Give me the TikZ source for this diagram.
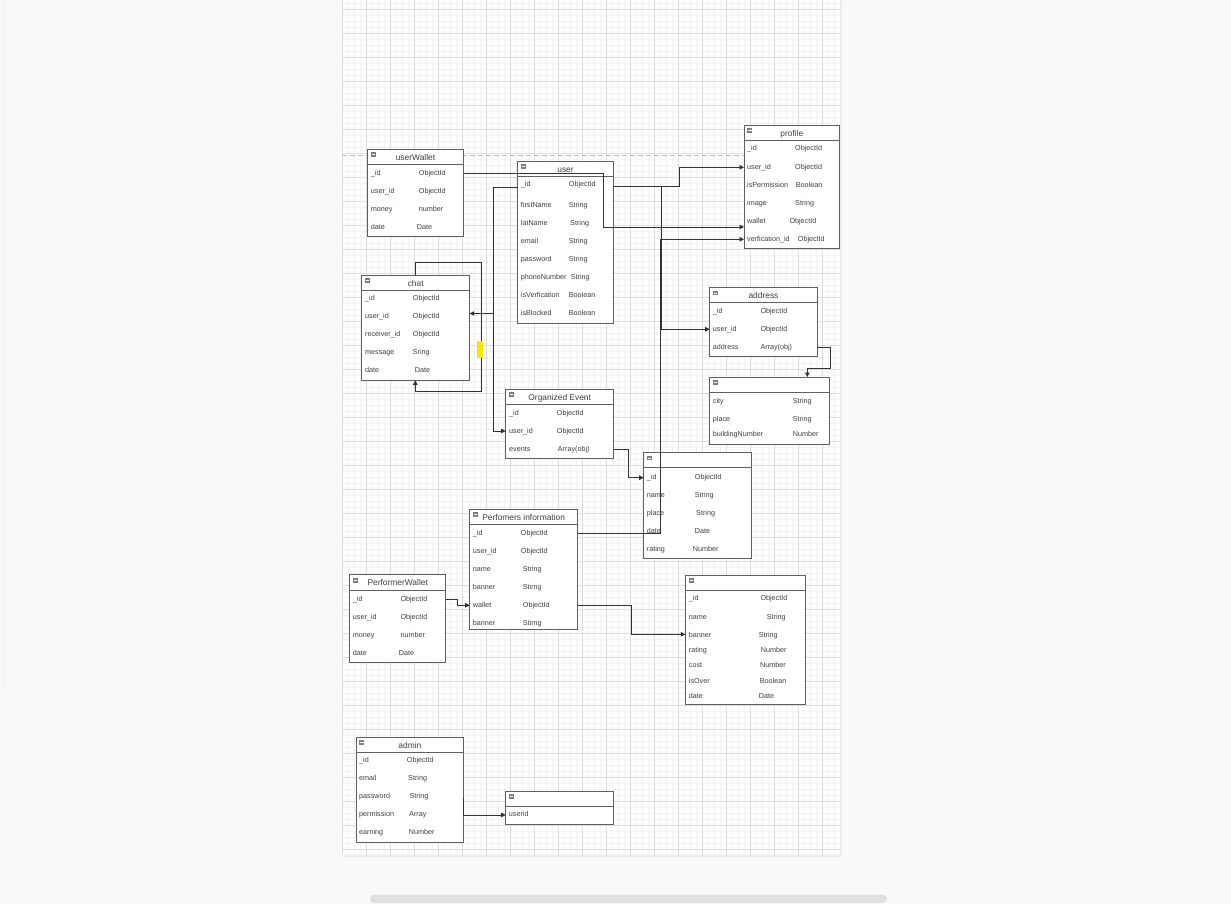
\documentclass[tikz,border=0pt]{standalone}
\usepackage{fontspec}
\setmainfont{Liberation Sans}
\usetikzlibrary{arrows.meta}
\definecolor{bgc}{RGB}{249,249,249}
\definecolor{boxc}{RGB}{95,95,95}
\definecolor{linec}{RGB}{50,50,50}
\definecolor{txtc}{RGB}{62,62,62}
\definecolor{gmaj}{RGB}{220,220,220}
\definecolor{gmin}{RGB}{243,243,243}
\definecolor{hilite}{RGB}{250,230,0}
\definecolor{iconc}{RGB}{125,125,125}
\tikzset{
 tbl/.style={draw=boxc, line width=0.9pt, fill=white, anchor=north west, inner sep=0pt, outer sep=0pt},
 ttl/.style={font=\fontsize{8.4}{10}\selectfont, text=txtc, inner sep=0pt, anchor=base},
 fld/.style={font=\fontsize{7.2}{8.6}\selectfont, text=txtc, anchor=base west, inner sep=0pt},
 conn/.style={draw=linec, line width=0.8pt, -{Triangle[length=4.5pt,width=4.5pt]}},
}
\newcommand\erbox[6]{%
 \node[tbl, minimum width=#4pt, minimum height=#5pt] (#1) at (#2,#3) {};
 \draw[draw=boxc, line width=0.9pt] ([yshift=-15.3pt]#1.north west) -- ([yshift=-15.3pt]#1.north east);
 \fill[iconc] ([xshift=3.4pt,yshift=-3.3pt]#1.north west) rectangle ++(5pt,-4.6pt);
 \draw[white, line width=0.6pt] ([xshift=4.2pt,yshift=-5.6pt]#1.north west) -- ++(3.4pt,0pt);
 \node[ttl] (#1-title) at ([yshift=-11.2pt]#1.north) {#6};
}
\newcommand\frow[6]{%
 \node[fld] (#1a) at (#2,#4+2.6) {#5};
 \node[fld] (#1b) at (#3,#4+2.6) {#6};
}
\begin{document}
\begin{tikzpicture}[x=1pt,y=-1pt]
\useasboundingbox (0,0) rectangle (1231,904);
\fill[bgc] (0,0) rectangle (1231,904);
\draw[gray!12, line width=0.8pt] (4.5,0) -- (4.5,690);
% page
\fill[black!8] (343.5,1.5) rectangle (842,856.5);
\fill[white] (342,0) rectangle (840,854.5);
\begin{scope}
\clip (342,0) rectangle (840,854.5);
\foreach \i in {0,...,83} \draw[gmin, line width=0.5pt] (342.5+6*\i,0) -- ++(0,855);
\foreach \j in {0,...,142} \draw[gmin, line width=0.5pt] (342,3.3+6*\j) -- ++(498,0);
\foreach \i in {0,...,20} \draw[gmaj, line width=0.6pt] (342.5+24*\i,0) -- ++(0,855);
\foreach \j in {0,...,35} \draw[gmaj, line width=0.6pt] (342,9.3+24*\j) -- ++(498,0);
\end{scope}
\draw[gray!50, line width=0.8pt, dash pattern=on 5pt off 3pt] (342,155) -- (840,155);
% scrollbar
\fill[gray!24, rounded corners=4pt] (370,894.5) rectangle (887,903);

% tables
\erbox{uw}{367.3}{149}{96.4}{87.3}{userWallet}
\frow{uw1}{370.7}{418.7}{172.7}{\_id}{ObjectId}
\frow{uw2}{370.7}{418.7}{190.7}{user\_id}{ObjectId}
\frow{uw3}{370.7}{418.7}{208.7}{money}{number}
\frow{uw4}{370.7}{416.7}{226.7}{date}{Date}

\erbox{user}{517.7}{161}{95.6}{162.7}{user}
\frow{us1}{520.7}{568.7}{184.3}{\_id}{ObjectId}
\frow{us2}{520.7}{568.7}{205.3}{firstName}{String}
\frow{us3}{520.7}{570}{223.3}{latName}{String}
\frow{us4}{520.7}{568.7}{241.3}{email}{String}
\frow{us5}{520.7}{568.7}{259.3}{password}{String}
\frow{us6}{520.7}{570.7}{277.3}{phoneNumber}{String}
\frow{us7}{520.7}{568.7}{295.3}{isVerfication}{Boolean}
\frow{us8}{520.7}{568.7}{313.3}{isBlocked}{Boolean}

\erbox{profile}{744}{125}{95.7}{123.3}{profile}
\frow{pr1}{747}{795}{148.3}{\_id}{ObjectId}
\frow{pr2}{747}{795}{166.7}{user\_id}{ObjectId}
\frow{pr3}{747}{795.7}{184.7}{isPermission}{Boolean}
\frow{pr4}{747}{795}{202.7}{image}{String}
\frow{pr5}{747}{789.3}{220.7}{wallet}{ObjectId}
\frow{pr6}{747}{797.7}{238.7}{verfication\_id}{ObjectId}

\erbox{chat}{361.7}{275}{108}{105.3}{chat}
\frow{ch1}{365}{412.7}{298.3}{\_id}{ObjectId}
\frow{ch2}{365}{412.7}{316.3}{user\_id}{ObjectId}
\frow{ch3}{365}{412.7}{334.3}{receiver\_id}{ObjectId}
\frow{ch4}{365}{412.7}{352.3}{message}{Sring}
\frow{ch5}{365}{414.7}{370.3}{date}{Date}

\erbox{address}{709.7}{287.3}{107.6}{69}{address}
\frow{ad1}{712.7}{760.3}{310.7}{\_id}{ObjectId}
\frow{ad2}{712.7}{760.3}{328.7}{user\_id}{ObjectId}
\frow{ad3}{712.7}{760.3}{346.7}{address}{Array(obj)}

\erbox{loc}{709.7}{377}{120}{67}{}
\frow{lo1}{712.7}{792.7}{400.7}{city}{String}
\frow{lo2}{712.7}{792.7}{418.7}{place}{String}
\frow{lo3}{712.7}{792.7}{433.7}{buildingNumber}{Number}

\erbox{org}{505.7}{389}{108}{69.3}{Organized Event}
\frow{or1}{509}{556.7}{412.7}{\_id}{ObjectId}
\frow{or2}{509}{556.7}{430.7}{user\_id}{ObjectId}
\frow{or3}{509}{557.7}{448.7}{events}{Array(obj)}

\erbox{evt}{643.7}{452.3}{108}{106}{}
\frow{ev1}{646.7}{694.7}{476.7}{\_id}{ObjectId}
\frow{ev2}{646.7}{694.7}{494.7}{name}{String}
\frow{ev3}{646.7}{696}{512.7}{place}{String}
\frow{ev4}{646.7}{694.7}{530.7}{date}{Date}
\frow{ev5}{646.7}{692.7}{548.7}{rating}{Number}

\erbox{perf}{469.7}{509}{108}{120.7}{Perfomers information}
\frow{pf1}{472.7}{520.7}{532.7}{\_id}{ObjectId}
\frow{pf2}{472.7}{520.7}{550.7}{user\_id}{ObjectId}
\frow{pf3}{472.7}{522.7}{568.7}{name}{String}
\frow{pf4}{472.7}{522.7}{586.7}{banner}{Stirng}
\frow{pf5}{472.7}{522.7}{604.7}{wallet}{ObjectId}
\frow{pf6}{472.7}{522.7}{622.7}{banner}{Stirng}

\erbox{pw}{349.7}{574.7}{96}{87.6}{PerformerWallet}
\frow{pw1}{352.7}{400.3}{598.7}{\_id}{ObjectId}
\frow{pw2}{352.7}{400.3}{616.7}{user\_id}{ObjectId}
\frow{pw3}{352.7}{400.3}{634.7}{money}{number}
\frow{pw4}{352.7}{398.7}{652.7}{date}{Date}

\erbox{show}{685.3}{575}{120.4}{129.3}{}
\frow{sh1}{688.7}{760.3}{598.3}{\_id}{ObjectId}
\frow{sh2}{688.7}{766.7}{616.7}{name}{String}
\frow{sh3}{688.7}{758.7}{634.7}{banner}{String}
\frow{sh4}{688.7}{760.7}{649.7}{rating}{Number}
\frow{sh5}{688.7}{760}{665.3}{cost}{Number}
\frow{sh6}{688.7}{759.7}{680.7}{isOver}{Boolean}
\frow{sh7}{688.7}{758.7}{696.3}{date}{Date}

\erbox{admin}{356}{737}{107.7}{105.3}{admin}
\frow{am1}{359}{406.7}{760.3}{\_id}{ObjectId}
\frow{am2}{359}{408}{778.3}{email}{String}
\frow{am3}{359}{409.3}{796.3}{password}{String}
\frow{am4}{359}{409}{814.3}{permission}{Array}
\frow{am5}{359}{408.7}{832.3}{earning}{Number}

\erbox{uid}{505.7}{791}{108}{33.3}{}
\node[fld] (ui1a) at (508.7,814.3+2.6) {userid};

% connectors
\draw[conn] (uw.east |- 0,173.3) -- (603.3,173.3) -- (603.3,227) -- (profile.west |- 0,227);
\draw[conn] (user.east |- 0,186.7) -- (679,186.7) -- (679,167.3) -- (profile.west |- 0,167.3);
\draw[conn] (user.east |- 0,186.7) -- (661.3,186.7) -- (661.3,329.3) -- (address.west |- 0,329.3);
\draw[conn] (user.west |- 0,187.3) -- (493.7,187.3) -- (493.7,313.5) -- (chat.east |- 0,313.5);
\draw[conn] (user.west |- 0,187.3) -- (493.7,187.3) -- (493.7,431) -- (org.west |- 0,431);
\draw[conn] (chat.north -| 415.3,0) -- (415.3,262.3) -- (481.7,262.3) -- (481.7,391.7) -- (415.3,391.7) -- (chat.south -| 415.3,0);
\draw[conn] (address.east |- 0,347.7) -- (830,347.7) -- (830,368.3) -- (807.3,368.3) -- (loc.north -| 807.3,0);
\draw[conn] (org.east |- 0,449.3) -- (628.3,449.3) -- (628.3,477.7) -- (evt.west |- 0,477.7);
\draw[conn] (perf.east |- 0,533.3) -- (660.7,533.3) -- (660.7,239.3) -- (profile.west |- 0,239.3);
\draw[conn] (pw.east |- 0,599) -- (457.7,599) -- (457.7,605.3) -- (perf.west |- 0,605.3);
\draw[conn] (perf.east |- 0,605.5) -- (631.7,605.5) -- (631.7,634.3) -- (show.west |- 0,634.3);
\draw[conn] (admin.east |- 0,797.7) -- (admin.east |- 0,815) -- (uid.west |- 0,815);

\fill[hilite] (477,340.7) rectangle (482.7,357.7);
\end{tikzpicture}
\end{document}
